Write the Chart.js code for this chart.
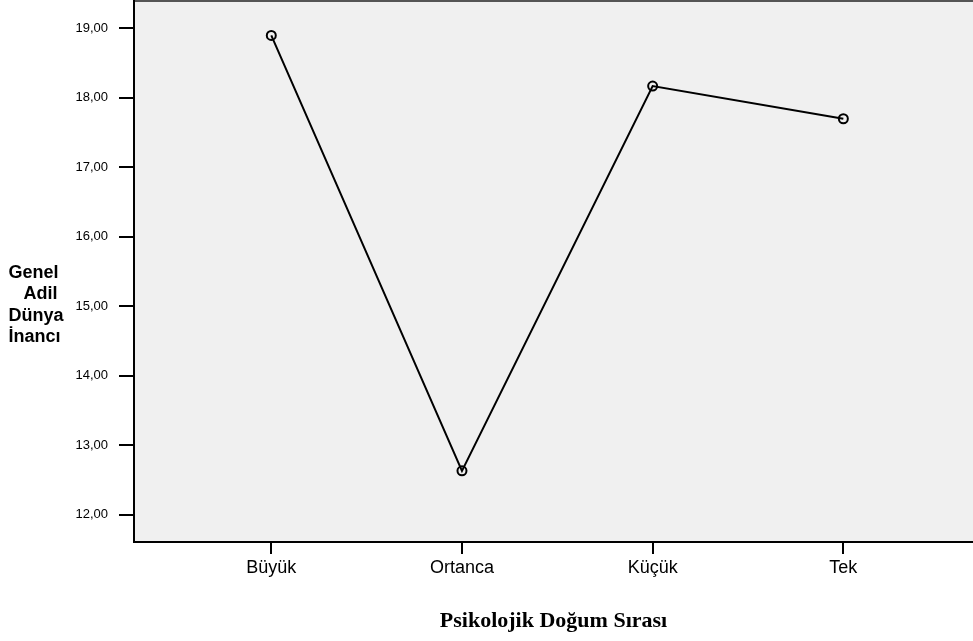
<!DOCTYPE html>
<html>
<head>
<meta charset="utf-8">
<script src="https://cdn.jsdelivr.net/npm/chart.js@4"></script>
<style>
  body { margin: 0; background: #fff; }
  #wrap { width: 973px; height: 641px; position: relative; }
</style>
</head>
<body>
<div id="wrap"><canvas id="myChart"></canvas></div>
<script>
const categories = ['Büyük', 'Ortanca', 'Küçük', 'Tek'];
const meanValues = [18.90, 12.63, 18.17, 17.70];
const yTicks = [12, 13, 14, 15, 16, 17, 18, 19];
const yTitleLines = ['Genel', '   Adil', 'Dünya', 'İnancı'];
const xTitle = 'Psikolojik Doğum Sırası';

const sansFont = "Arial, 'Liberation Sans', sans-serif";

// gray plot background plus the two axis titles
const decor = {
    id: 'decor',
    beforeDraw(chart) {
        const { ctx, chartArea: a } = chart;
        ctx.save();
        ctx.fillStyle = '#f0f0f0';
        ctx.fillRect(a.left, a.top, a.right - a.left, a.bottom - a.top);
        ctx.strokeStyle = '#555';
        ctx.lineWidth = 2;
        ctx.beginPath();
        ctx.moveTo(a.left, a.top + 1);
        ctx.lineTo(a.right, a.top + 1);
        ctx.stroke();
        ctx.restore();
    },
    afterDraw(chart) {
        const { ctx, chartArea: a } = chart;
        ctx.save();
        ctx.fillStyle = '#000';
        ctx.font = "bold 18px " + sansFont;
        ctx.textAlign = 'left';
        ctx.textBaseline = 'alphabetic';
        yTitleLines.forEach((t, i) => ctx.fillText(t, 8.5, 278 + i * 21.3));
        ctx.font = "bold 22px 'Liberation Serif', 'Times New Roman', serif";
        ctx.textAlign = 'center';
        ctx.fillText(xTitle, (a.left + a.right) / 2, 627);
        ctx.restore();
    }
};

new Chart(document.getElementById('myChart'), {
    type: 'line',
    data: {
        datasets: [{
            data: meanValues.map((v, i) => ({ x: i, y: v })),
            borderColor: '#000',
            borderWidth: 2,
            tension: 0,
            fill: false,
            pointStyle: 'circle',
            pointRadius: 4.5,
            pointBorderWidth: 2,
            pointBorderColor: '#000',
            pointBackgroundColor: 'rgba(0,0,0,0)'
        }]
    },
    options: {
        responsive: true,
        maintainAspectRatio: false,
        animation: false,
        layout: { padding: 0, autoPadding: false },
        plugins: { legend: { display: false }, tooltip: { enabled: false } },
        scales: {
            x: {
                type: 'linear',
                min: -0.72,
                max: 3.68,
                afterBuildTicks: s => { s.ticks = categories.map((c, i) => ({ value: i })); },
                afterFit: s => {
                    s.height = 99;
                    s.paddingLeft = 0;
                    s.paddingRight = 0;
                },
                ticks: {
                    callback: v => categories[v],
                    color: '#000',
                    font: { family: sansFont, size: 18 },
                    padding: 3,
                    maxRotation: 0,
                    autoSkip: false
                },
                grid: { drawOnChartArea: false, color: '#000', lineWidth: 2, tickLength: 12 },
                border: { color: '#000', width: 2 }
            },
            y: {
                min: 11.605,
                max: 19.41,
                afterBuildTicks: s => { s.ticks = yTicks.map(v => ({ value: v })); },
                afterFit: s => {
                    s.width = 134;
                    s.paddingTop = 0;
                    s.paddingBottom = 0;
                },
                ticks: {
                    callback: v => v.toFixed(2).replace('.', ','),
                    color: '#000',
                    font: { family: sansFont, size: 13 },
                    padding: 11
                },
                grid: { drawOnChartArea: false, color: '#000', lineWidth: 2, tickLength: 15 },
                border: { color: '#000', width: 2 }
            }
        }
    },
    plugins: [decor]
});
</script>
</body>
</html>
